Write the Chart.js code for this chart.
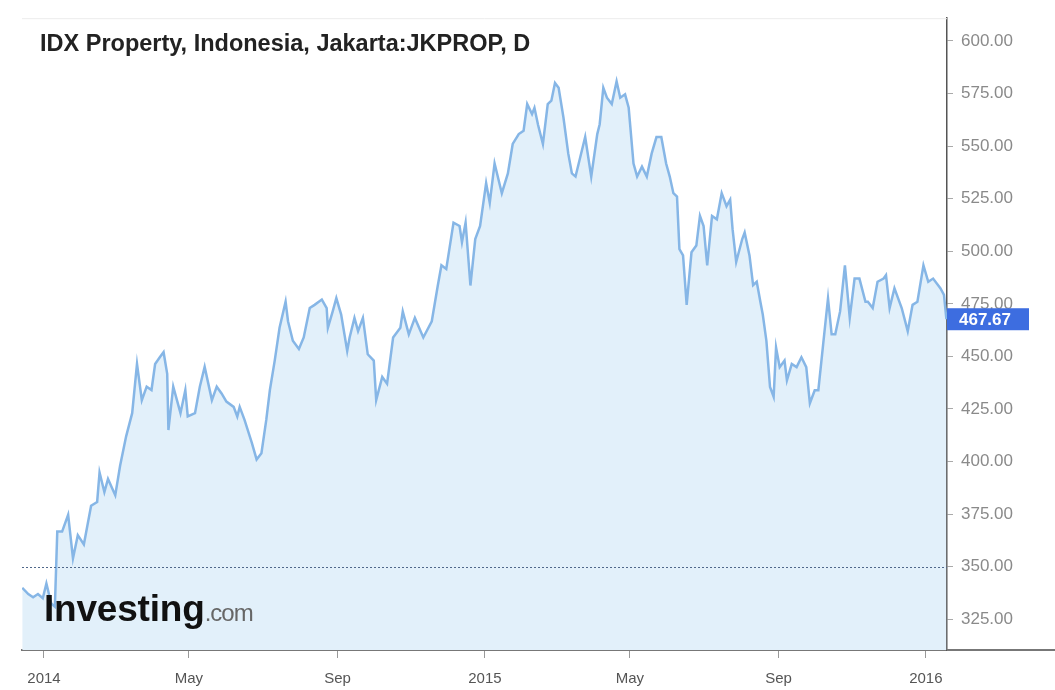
<!DOCTYPE html>
<html>
<head>
<meta charset="utf-8">
<title>IDX Property, Indonesia, Jakarta:JKPROP, D</title>
<script src="https://cdn.jsdelivr.net/npm/chart.js@4.4.0/dist/chart.umd.min.js"></script>
<style>
  html, body { margin: 0; padding: 0; background: #fff; }
  #wrap { position: relative; width: 1055px; height: 690px; }
  #title { position: absolute; left: 40px; top: 30px; line-height: 23px; font: bold 23.5px 'Liberation Sans', Arial, sans-serif; color: #222; white-space: nowrap; }
  #logo { position: absolute; left: 44px; top: 588px; line-height: 37px; font: bold 37px 'Liberation Sans', Arial, sans-serif; color: #111; letter-spacing: -0.2px; white-space: nowrap; }
  #logo span { font-weight: normal; font-size: 24px; color: #666; letter-spacing: -1px; }
</style>
</head>
<body>
<div id="wrap">
  <canvas id="stockChart" width="1055" height="690"></canvas>
  <div id="title">IDX Property, Indonesia, Jakarta:JKPROP, D</div>
  <div id="logo">Investing<span>.com</span></div>
</div>
<script>
// daily closes (roughly every few sessions)
const dates = [
  '2013-12-14','2013-12-19','2013-12-23','2013-12-27','2013-12-31','2014-01-03','2014-01-07','2014-01-10',
  '2014-01-12','2014-01-16','2014-01-21','2014-01-25','2014-01-29','2014-02-03','2014-02-09','2014-02-14',
  '2014-02-16','2014-02-20','2014-02-23','2014-03-01','2014-03-05','2014-03-10','2014-03-15','2014-03-19',
  '2014-03-23','2014-03-27','2014-03-31','2014-04-03','2014-04-07','2014-04-10','2014-04-13','2014-04-14',
  '2014-04-18','2014-04-24','2014-04-28','2014-04-30','2014-05-06','2014-05-10','2014-05-14','2014-05-20',
  '2014-05-24','2014-05-28','2014-06-01','2014-06-07','2014-06-10','2014-06-12','2014-06-16','2014-06-22',
  '2014-06-26','2014-06-30','2014-07-04','2014-07-07','2014-07-11','2014-07-15','2014-07-20','2014-07-22',
  '2014-07-26','2014-07-31','2014-08-04','2014-08-09','2014-08-13','2014-08-19','2014-08-23','2014-08-24',
  '2014-08-28','2014-08-31','2014-09-04','2014-09-09','2014-09-11','2014-09-15','2014-09-18','2014-09-22',
  '2014-09-26','2014-10-01','2014-10-03','2014-10-08','2014-10-12','2014-10-17','2014-10-23','2014-10-25',
  '2014-10-30','2014-11-04','2014-11-11','2014-11-18','2014-11-23','2014-11-26','2014-11-30','2014-12-06',
  '2014-12-11','2014-12-13','2014-12-16','2014-12-20','2014-12-24','2014-12-28','2015-01-02','2015-01-05',
  '2015-01-09','2015-01-15','2015-01-20','2015-01-24','2015-01-29','2015-02-02','2015-02-05','2015-02-09',
  '2015-02-11','2015-02-14','2015-02-18','2015-02-22','2015-02-25','2015-02-28','2015-03-03','2015-03-07',
  '2015-03-11','2015-03-14','2015-03-17','2015-03-21','2015-03-25','2015-03-30','2015-04-04','2015-04-06',
  '2015-04-09','2015-04-12','2015-04-16','2015-04-20','2015-04-23','2015-04-27','2015-04-30','2015-05-04',
  '2015-05-07','2015-05-11','2015-05-15','2015-05-19','2015-05-23','2015-05-27','2015-05-31','2015-06-03',
  '2015-06-06','2015-06-09','2015-06-11','2015-06-14','2015-06-17','2015-06-21','2015-06-25','2015-06-28',
  '2015-07-01','2015-07-04','2015-07-08','2015-07-12','2015-07-16','2015-07-20','2015-07-23','2015-07-25',
  '2015-07-28','2015-08-02','2015-08-04','2015-08-08','2015-08-11','2015-08-14','2015-08-17','2015-08-19',
  '2015-08-22','2015-08-25','2015-08-28','2015-08-30','2015-09-02','2015-09-06','2015-09-08','2015-09-12',
  '2015-09-16','2015-09-20','2015-09-24','2015-09-27','2015-10-01','2015-10-04','2015-10-08','2015-10-12',
  '2015-10-15','2015-10-18','2015-10-22','2015-10-26','2015-10-30','2015-11-03','2015-11-07','2015-11-12',
  '2015-11-14','2015-11-18','2015-11-22','2015-11-27','2015-11-29','2015-12-02','2015-12-06','2015-12-12',
  '2015-12-17','2015-12-21','2015-12-25','2015-12-30','2016-01-03','2016-01-07','2016-01-13','2016-01-16',
  '2016-01-18'
];
const closes = [
  340, 337, 335.5, 337, 335, 342, 332.5, 331,
  366.7, 366.7, 374.7, 354, 365, 360.6, 379, 380.8,
  394.8, 385.5, 391.7, 384, 398, 412, 423, 446.4,
  429.2, 435.6, 434, 446.4, 449.7, 452, 441.7, 415,
  435.6, 423, 434, 421.5, 423, 435.6, 445, 429.2,
  435.6, 432.4, 428.5, 426, 421.4, 426, 419.8, 409,
  401, 404, 419.8, 434, 448, 463.6, 476, 466.7,
  457.4, 453.5, 459, 473, 474.5, 477, 473, 463.6,
  471.4, 477.7, 469.9, 452.6, 459, 468.3, 462, 468.3,
  451, 448, 429.2, 440.2, 437, 459, 463.6, 471.4,
  460.5, 468.3, 459, 466.7, 483.7, 493.3, 491.6, 513.6,
  512, 504.3, 513.6, 483.7, 505.8, 512, 532.4, 523,
  541.7, 527.6, 537, 551, 555.7, 557.3, 570, 565.2,
  568.2, 560, 551, 570, 571.6, 580, 577.7, 563.6,
  546.4, 537, 535.5, 544.9, 554.3, 535.5, 555.7, 560.4,
  577.7, 573, 570, 580.8, 573, 574.6, 568.2, 541.7,
  535.5, 540.2, 535.5, 546.4, 554.3, 554.3, 541.7, 535.5,
  527.6, 526, 501, 498, 474.5, 499.5, 502.7, 516.8,
  512, 493.3, 516.8, 515.2, 527.6, 521.4, 524.5, 510.5,
  494.9, 505.8, 508.9, 498, 483.9, 485.5, 476, 469.9,
  457.4, 435.5, 430.8, 454.2, 444.9, 448, 438.6, 446.4,
  444.9, 449.6, 444.9, 427.7, 433.9, 433.9, 455.8, 477.6,
  460.5, 460.5, 471.4, 493.3, 468.3, 487, 487, 476,
  476, 473, 485.5, 487, 488.6, 473, 482.4, 473,
  462, 474.5, 476, 493.3, 485.5, 487, 482.4, 479.3,
  467.67
];

const xTickDates = ['2014-01-01','2014-05-01','2014-09-01','2015-01-01','2015-05-01','2015-09-01','2016-01-01'];
const xTickLabels = ['2014','May','Sep','2015','May','Sep','2016'];
const yTicks = [325, 350, 375, 400, 425, 450, 475, 500, 525, 550, 575, 600];
const refLevel = 350;
const lastPrice = 467.67;

// days counted from 2014-01-01 (no date adapter available offline)
function toDay(s) {
    const p = s.split('-').map(Number);
    return (Date.UTC(p[0], p[1] - 1, p[2]) - Date.UTC(2014, 0, 1)) / 86400000;
}

const points = dates.map((d, i) => ({ x: toDay(d), y: closes[i] }));
const xTickDays = xTickDates.map(toDay);

Chart.defaults.font.family = "'Liberation Sans', Arial, sans-serif";

const extras = {
    id: 'extras',
    afterDatasetsDraw(chart) {
        const { ctx, chartArea, scales } = chart;
        // dotted reference line
        const y = Math.round(scales.y.getPixelForValue(refLevel)) + 0.5;
        ctx.save();
        ctx.strokeStyle = '#50688a';
        ctx.lineWidth = 1;
        ctx.setLineDash([2, 2]);
        ctx.beginPath();
        ctx.moveTo(chartArea.left, y);
        ctx.lineTo(chartArea.right, y);
        ctx.stroke();
        ctx.restore();
    },
    afterDraw(chart) {
        const { ctx, chartArea, scales } = chart;
        ctx.save();
        // faint top edge
        ctx.strokeStyle = '#ececec';
        ctx.lineWidth = 1;
        ctx.beginPath();
        ctx.moveTo(chartArea.left, chartArea.top + 0.5);
        ctx.lineTo(chartArea.right, chartArea.top + 0.5);
        ctx.stroke();
        // bottom line runs on under the price axis
        ctx.strokeStyle = '#777';
        ctx.lineWidth = 2;
        ctx.beginPath();
        ctx.moveTo(chartArea.right, chartArea.bottom);
        ctx.lineTo(1055, chartArea.bottom);
        ctx.stroke();
        // last price tag
        const py = scales.y.getPixelForValue(lastPrice);
        ctx.fillStyle = '#3d6de0';
        ctx.fillRect(chartArea.right, py - 11, 82, 22);
        ctx.fillStyle = '#fff';
        ctx.font = "bold 17px 'Liberation Sans', Arial, sans-serif";
        ctx.textBaseline = 'middle';
        ctx.fillText(lastPrice.toFixed(2), chartArea.right + 12, py + 1);
        ctx.restore();
    }
};

const ctx = document.getElementById('stockChart').getContext('2d');
new Chart(ctx, {
    type: 'line',
    data: {
        datasets: [{
            data: points,
            borderColor: '#86b6e6',
            backgroundColor: '#e2f0fa',
            borderWidth: 2.5,
            fill: 'start',
            pointRadius: 0,
            tension: 0
        }]
    },
    options: {
        responsive: false,
        animation: false,
        parsing: false,
        layout: { padding: { left: 22, top: 12, right: 0, bottom: 0 } },
        plugins: {
            legend: { display: false },
            tooltip: { enabled: false }
        },
        scales: {
            x: {
                type: 'linear',
                min: -18.2,
                max: 747.5,
                afterBuildTicks: s => { s.ticks = xTickDays.map(v => ({ value: v })); },
                afterFit: s => { s.height = 40; },
                ticks: {
                    autoSkip: false,
                    maxRotation: 0,
                    padding: 12,
                    color: '#555',
                    font: { size: 15 },
                    callback: (v, i) => xTickLabels[i]
                },
                grid: { drawOnChartArea: false, tickLength: 8, color: '#999' },
                border: { color: '#777', width: 2 }
            },
            y: {
                position: 'right',
                min: 310.4,
                max: 610.8,
                afterBuildTicks: s => { s.ticks = yTicks.map(v => ({ value: v })); },
                afterFit: s => { s.width = 108; },
                ticks: {
                    padding: 8,
                    color: '#8a8a8a',
                    font: { size: 17 },
                    callback: v => Number(v).toFixed(2)
                },
                grid: { drawOnChartArea: false, tickLength: 6, color: '#aaa' },
                border: { color: '#555', width: 1.5 }
            }
        }
    },
    plugins: [extras]
});
</script>
</body>
</html>
